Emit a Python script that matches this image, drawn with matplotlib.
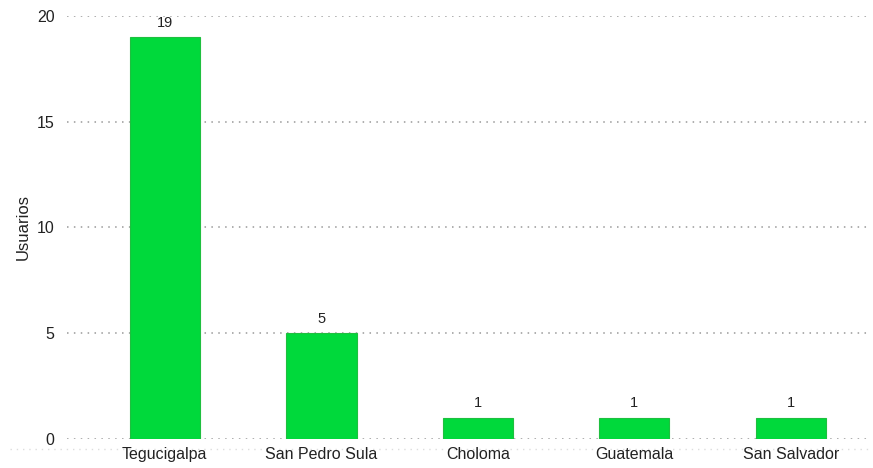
import matplotlib
matplotlib.use("Agg")
import matplotlib.pyplot as plt
from matplotlib.lines import Line2D

categories = ["Tegucigalpa", "San Pedro Sula", "Choloma", "Guatemala", "San Salvador"]
values = [19, 5, 1, 1, 1]
yticks = [0, 5, 10, 15, 20]

plt.rcParams['font.family'] = ['Liberation Sans', 'DejaVu Sans']

fig = plt.figure(figsize=(8.73, 4.68), dpi=100)
ax = fig.add_axes([67/873, 1-439/468, (869-67)/873, (439-16)/468])

x = list(range(len(categories)))
bars = ax.bar(x, values, width=0.45, color='#00d93b', edgecolor='#1fbf3f', linewidth=0.8, zorder=3)
for xi, v in zip(x, values):
    ax.text(xi, v + 0.35, str(v), ha='center', va='bottom', fontsize=10.5, color='#222222')

ax.set_xlim(-0.625, 4.5)
ax.set_ylim(0, 20)
ax.set_yticks(yticks)
ax.set_yticklabels([str(t) for t in yticks])
ax.set_xticks(x)
ax.set_xticklabels(categories)
ax.tick_params(axis='both', length=0, labelsize=11.5, colors='#222222')
ax.tick_params(axis='y', pad=9)
ax.tick_params(axis='x', pad=6)
for s in ax.spines.values():
    s.set_visible(False)
ax.grid(axis='y', linestyle=(0, (1, 3.5)), color='#999999', linewidth=1.1, zorder=0)
ax.set_axisbelow(True)
ax.set_ylabel("Usuarios", fontsize=12, color='#222222', labelpad=4)

fig.add_artist(Line2D([10/873, 869/873], [1-449/468, 1-449/468], transform=fig.transFigure,
                      linestyle=(0, (1, 3.5)), color='#dddddd', linewidth=1.0, zorder=0))

fig.savefig("out.png", dpi=100)
